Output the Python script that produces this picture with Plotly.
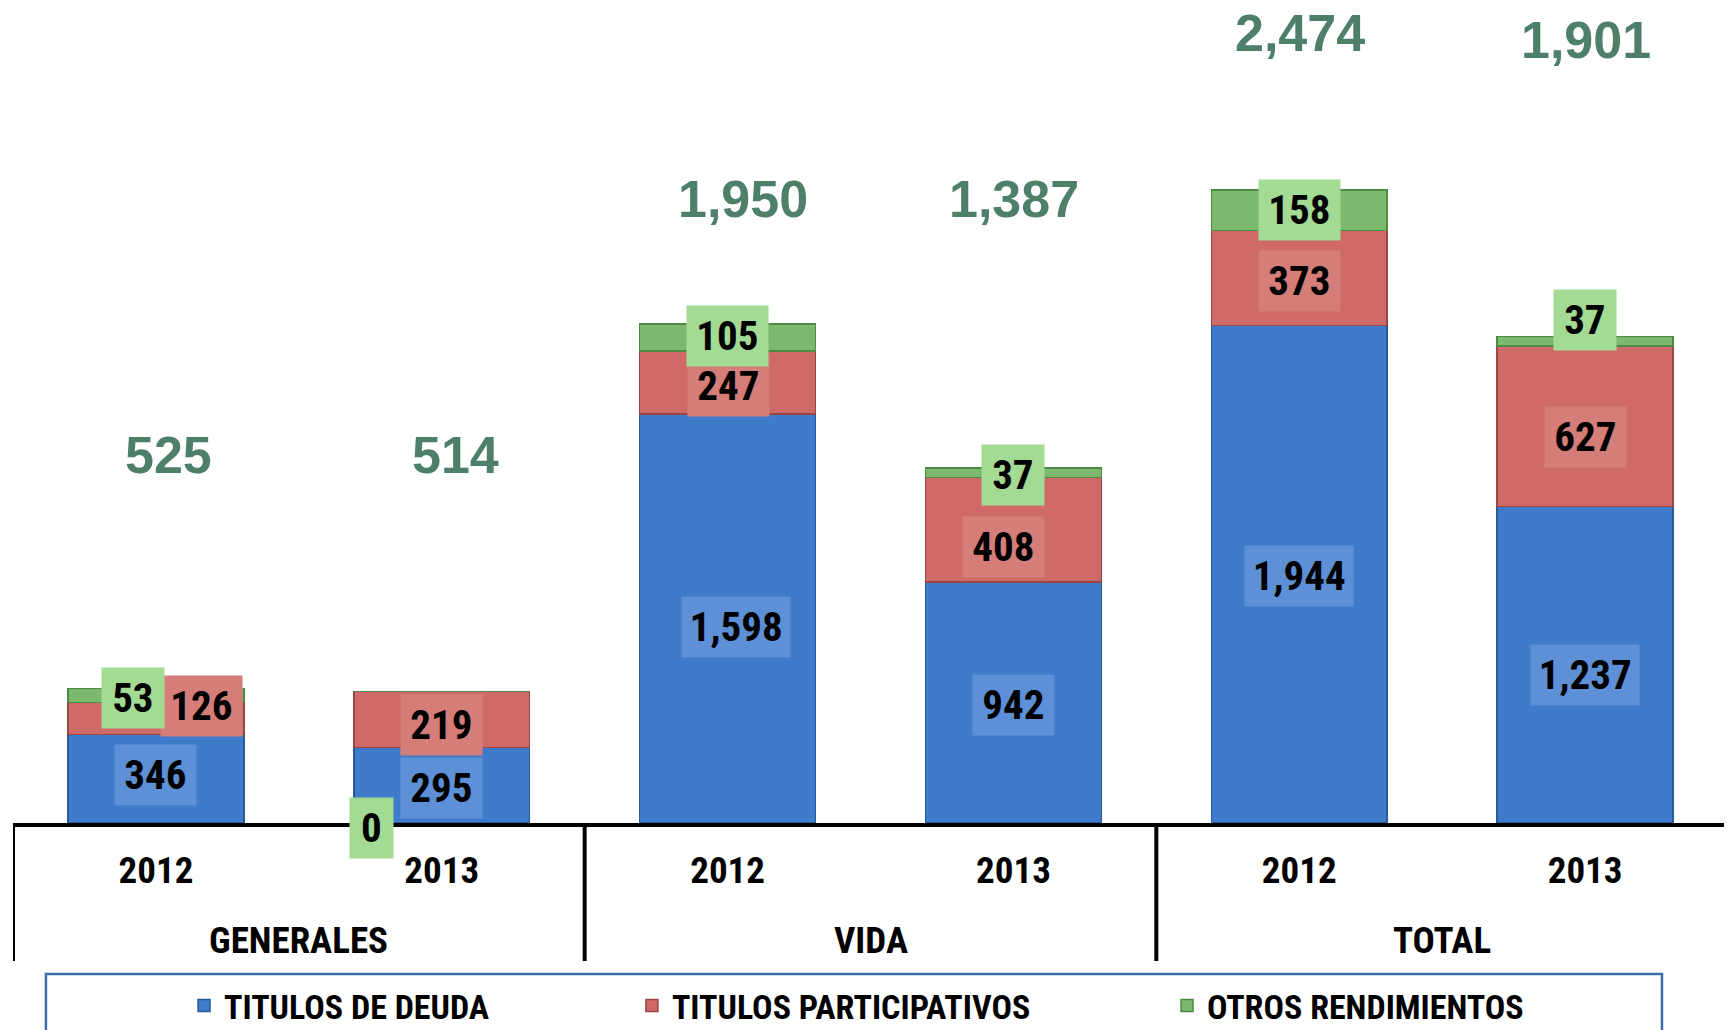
import plotly.graph_objects as go

# ---------------- data ----------------
groups = ["GENERALES", "GENERALES", "VIDA", "VIDA", "TOTAL", "TOTAL"]
years = ["2012", "2013", "2012", "2013", "2012", "2013"]
series_names = ["TITULOS DE DEUDA", "TITULOS PARTICIPATIVOS", "OTROS RENDIMIENTOS"]
titulos_deuda = [346, 295, 1598, 942, 1944, 1237]
titulos_participativos = [126, 219, 247, 408, 373, 627]
otros_rendimientos = [53, 0, 105, 37, 158, 37]
totals = [525, 514, 1950, 1387, 2474, 1901]

# ---------------- styling ----------------
NARROW = "Roboto Condensed, Open Sans Condensed, DejaVu Sans Condensed, sans-serif"
WIDE = "Liberation Sans, Arial, sans-serif"
bar_colors = ["#3E7BCB", "#CF6A68", "#7DB96C"]
line_colors = ["#2B5A96", "#9A4644", "#4F8A44"]
box_colors = ["#5D90D6", "#D47D79", "#A3DA94"]
total_color = "#4D7F69"

# label offsets in pixels (x, y) per series, per bar
label_dx = [[0, 0, 8, 0, 0, 0], [46, 0, 1, -10, 0, 0], [-23, -70, 0, 0, 0, 0]]
label_dy = [[4, -3, -8, -2, -2, -10], [12, -5, -3, -17, -3, -11], [-3, -136, 2, -2, 0, 21]]
# total label placement (axis units) and horizontal pixel offsets
total_label_y = [1438, 1438, 2438, 2438, 3087, 3060]
total_dx = [13, 14, 15, 1, 1, 1]

series = [titulos_deuda, titulos_participativos, otros_rendimientos]
legend_ids = ["legend", "legend2", "legend3"]
cat_keys = [f"{g} {y}" for g, y in zip(groups, years)]

fig = go.Figure()
for s, vals in enumerate(series):
    fig.add_trace(go.Bar(
        x=cat_keys, y=vals, name=series_names[s],
        width=0.615,
        marker=dict(color=bar_colors[s], line=dict(color=line_colors[s], width=1.5)),
        legend=legend_ids[s],
        hoverinfo="skip",
    ))

annotations = []
def box_width(txt, size):
    d = sum(c.isdigit() for c in txt)
    c = txt.count(",")
    return 0.46 * size * d + 0.22 * size * c + 12

LBL = 41
for i in range(len(groups)):
    base = 0
    for s, vals in enumerate(series):
        v = vals[i]
        txt = f"{v:,}"
        annotations.append(dict(
            x=i, y=base + v / 2, xref="x", yref="y", text=txt, showarrow=False,
            xshift=label_dx[s][i], yshift=label_dy[s][i],
            font=dict(family=NARROW, size=LBL, color="black", weight="bold"),
            bgcolor=box_colors[s], borderpad=6, width=box_width(txt, LBL),
        ))
        base += v
    annotations.append(dict(
        x=i, y=total_label_y[i], xref="x", yref="y", text=f"{totals[i]:,}",
        showarrow=False, xshift=total_dx[i],
        font=dict(family=WIDE, size=52, color=total_color, weight="bold"),
    ))

# group labels (second level of category axis) and group dividers
shapes = []
PLOT_H = 813
bounds = [-0.5]
for i in range(1, len(groups)):
    if groups[i] != groups[i - 1]:
        bounds.append(i - 0.5)
bounds.append(len(groups) - 0.5)
for a, b in zip(bounds[:-1], bounds[1:]):
    g = groups[int(a + 0.5)]
    annotations.append(dict(
        x=(a + b) / 2, y=-117 / PLOT_H, xref="x", yref="paper", yanchor="middle",
        text=g, showarrow=False,
        font=dict(family=NARROW, size=37, color="black", weight="bold"),
    ))
for bx in bounds:
    shapes.append(dict(type="line", xref="x", yref="paper", x0=bx, x1=bx,
                       y0=0, y1=-138 / PLOT_H, line=dict(color="black", width=4)))

# legend frame
shapes.append(dict(
    type="rect", xref="paper", yref="paper",
    x0=0.0192, x1=0.9615, y0=-0.27, y1=-0.1857,
    line=dict(color="#3F6FA8", width=2.5), fillcolor="rgba(0,0,0,0)",
))

legend_x = [0.1021, 0.3619, 0.6723]
legend_common = dict(
    orientation="h", xref="container", yref="container", y=0.0235,
    yanchor="middle", xanchor="left", bgcolor="rgba(0,0,0,0)",
    font=dict(family=NARROW, size=34, color="black", weight="bold"),
)

fig.update_layout(
    width=1724, height=1022,
    margin=dict(l=5, r=4, t=2, b=207),
    paper_bgcolor="white", plot_bgcolor="white",
    barmode="stack",
    showlegend=True,
    annotations=annotations,
    shapes=shapes,
    legend=dict(x=legend_x[0], **legend_common),
    legend2=dict(x=legend_x[1], **legend_common),
    legend3=dict(x=legend_x[2], **legend_common),
    xaxis=dict(
        type="category", range=[-0.5, 5.5],
        tickmode="array", tickvals=cat_keys, ticktext=years,
        showline=True, linecolor="black", linewidth=4,
        ticks="", ticklabelstandoff=12,
        tickfont=dict(family=NARROW, size=37, color="black", weight="bold"),
        showgrid=False, zeroline=False,
    ),
    yaxis=dict(range=[0, 3178], visible=False, showgrid=False, zeroline=False),
)

fig.write_html("out.html")
